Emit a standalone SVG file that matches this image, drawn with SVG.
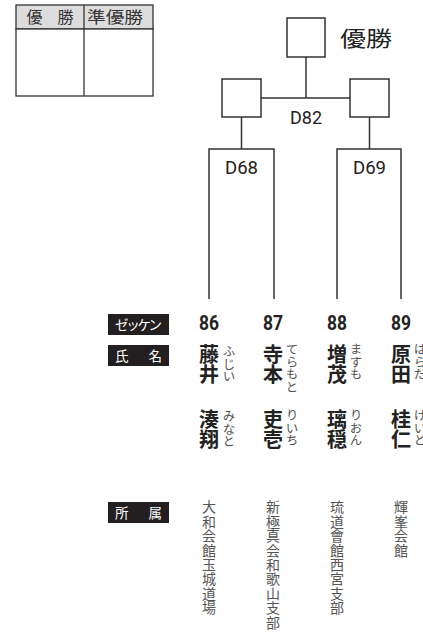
<svg xmlns="http://www.w3.org/2000/svg" width="423" height="632" viewBox="0 0 423 632">
<style>
.ln{fill:none;stroke:#333;stroke-width:1.5}
.box{fill:#fff;stroke:#333;stroke-width:1.5}
.jp{font-family:"Noto Sans CJK JP","Noto Sans",sans-serif}
.lat{font-family:Roboto,"Liberation Sans",sans-serif}
.lbl{font-size:19px;fill:#222;text-anchor:middle}
.num{font-size:21px;font-weight:700;fill:#222;text-anchor:middle}
.tag{fill:#231f20}
.tagt{font-size:13.5px;fill:#fff;text-anchor:middle}
.vt{writing-mode:vertical-rl}
.nm{font-size:20px;font-weight:700;fill:#222}
.fu{font-size:12.5px;fill:#555}
.af{font-size:14px;fill:#555;letter-spacing:0.4px}
</style>
<rect width="423" height="632" fill="#fff"/>
<g id="result-table">
<rect x="16" y="5" width="137" height="24" fill="#dcdcdc" stroke="#333" stroke-width="1.3"/>
<rect x="16" y="29" width="137" height="67" fill="#fff" stroke="#333" stroke-width="1.3"/>
<line x1="84" y1="5" x2="84" y2="96" stroke="#333" stroke-width="1.3"/>
<text class="jp" x="50" y="23" font-size="16" fill="#333" text-anchor="middle" textLength="47" lengthAdjust="spacing">優　勝</text>
<text class="jp" x="115" y="23" font-size="16" fill="#333" text-anchor="middle" textLength="56" lengthAdjust="spacingAndGlyphs">準優勝</text>
</g>
<g id="connectors">
<line class="ln" x1="306" y1="57" x2="306" y2="98"/>
<line class="ln" x1="261" y1="98" x2="350" y2="98"/>
<line class="ln" x1="241.5" y1="117" x2="241.5" y2="149"/>
<line class="ln" x1="369.5" y1="117" x2="369.5" y2="149"/>
<path class="ln" d="M209 299V149H274V299"/>
<path class="ln" d="M337 299V149H401V299"/>
</g>
<g id="final">
<rect class="box" x="287" y="18" width="38" height="39"/>
<text class="jp" x="340" y="46" font-size="21" fill="#222" textLength="52" lengthAdjust="spacingAndGlyphs">優勝</text>
</g>
<g id="semi-left"><rect class="box" x="222" y="79" width="39" height="38"/></g>
<g id="semi-right"><rect class="box" x="350" y="79" width="39" height="38"/></g>
<g id="D82"><text class="lat lbl" x="306" y="124" textLength="32" lengthAdjust="spacingAndGlyphs">D82</text></g>
<g id="D68"><text class="lat lbl" x="241.5" y="174" textLength="33" lengthAdjust="spacingAndGlyphs">D68</text></g>
<g id="D69"><text class="lat lbl" x="369.5" y="174" textLength="33" lengthAdjust="spacingAndGlyphs">D69</text></g>
<g id="tag-zekken"><rect class="tag" x="108" y="314" width="61" height="21"/><text class="jp tagt" x="138.5" y="329.5" textLength="47" lengthAdjust="spacing">ゼッケン</text></g>
<g id="tag-name"><rect class="tag" x="108" y="345" width="61" height="21"/><text class="jp tagt" x="138.5" y="361" font-size="15.5" textLength="47" lengthAdjust="spacing">氏　名</text></g>
<g id="tag-aff"><rect class="tag" x="108" y="502" width="61" height="21"/><text class="jp tagt" x="138.5" y="518" font-size="15.5" textLength="47" lengthAdjust="spacing">所　属</text></g>
<g id="p86">
<text class="lat num" x="209" y="330" textLength="20" lengthAdjust="spacingAndGlyphs">86</text>
<text class="jp vt nm" x="209" y="344">藤井</text>
<text class="jp vt fu" x="229" y="345">ふじい</text>
<text class="jp vt nm" x="209" y="409">湊翔</text>
<text class="jp vt fu" x="229" y="410">みなと</text>
<text class="jp vt af" x="209" y="500">大和会館玉城道場</text>
</g>
<g id="p87">
<text class="lat num" x="273" y="330" textLength="20" lengthAdjust="spacingAndGlyphs">87</text>
<text class="jp vt nm" x="273" y="344">寺本</text>
<text class="jp vt fu" x="292" y="343">てらもと</text>
<text class="jp vt nm" x="273" y="409">吏壱</text>
<text class="jp vt fu" x="292" y="409">りいち</text>
<text class="jp vt af" x="273" y="500">新極真会和歌山支部</text>
</g>
<g id="p88">
<text class="lat num" x="337" y="330" textLength="20" lengthAdjust="spacingAndGlyphs">88</text>
<text class="jp vt nm" x="337" y="344">増茂</text>
<text class="jp vt fu" x="356" y="343">ますも</text>
<text class="jp vt nm" x="337" y="409">璃穏</text>
<text class="jp vt fu" x="356" y="409">りおん</text>
<text class="jp vt af" x="337" y="500">琉道會館西宮支部</text>
</g>
<g id="p89">
<text class="lat num" x="401" y="330" textLength="20" lengthAdjust="spacingAndGlyphs">89</text>
<text class="jp vt nm" x="401" y="344">原田</text>
<text class="jp vt fu" x="420" y="343">はらだ</text>
<text class="jp vt nm" x="401" y="409">桂仁</text>
<text class="jp vt fu" x="420" y="409">けいと</text>
<text class="jp vt af" x="401" y="500">輝峯会館</text>
</g>
</svg>
